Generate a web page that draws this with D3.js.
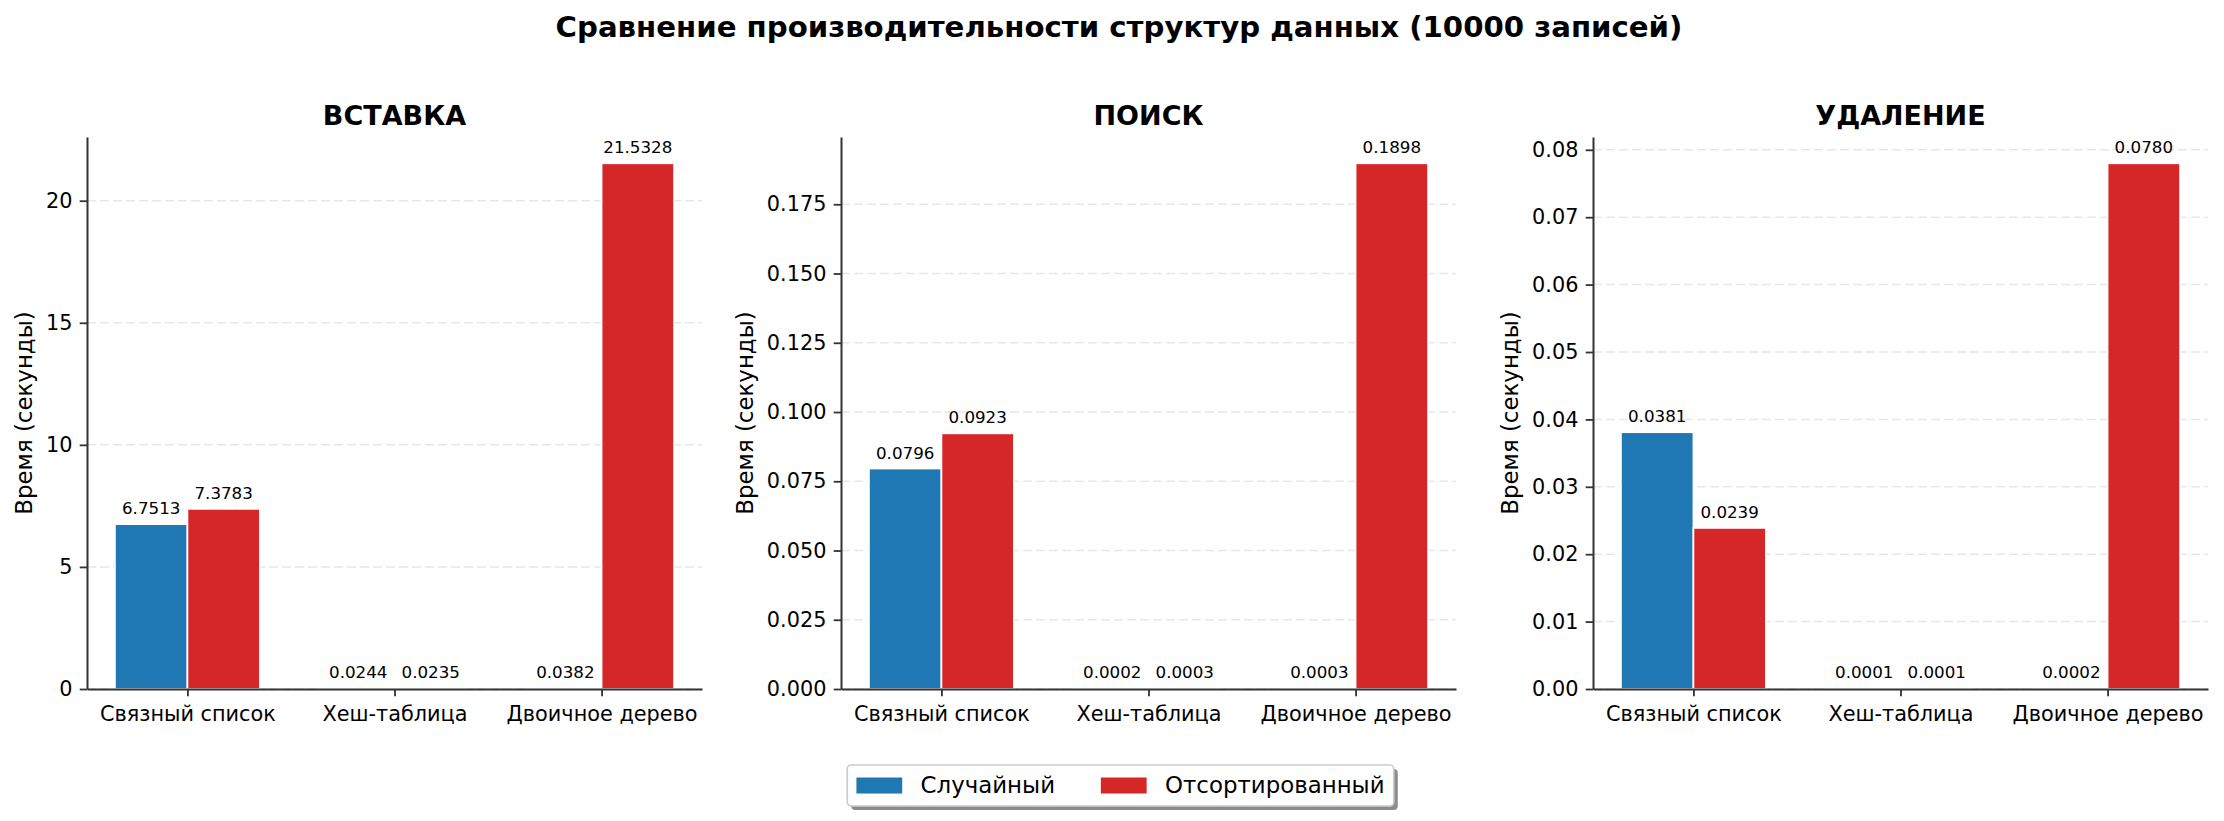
<!DOCTYPE html>
<html>
<head>
<meta charset="utf-8">
<script src="https://cdn.jsdelivr.net/npm/d3@7"></script>
<style>
  body { margin: 0; background: #fff; }
  svg { display: block; font-family: "DejaVu Sans", sans-serif; }
</style>
</head>
<body>
<svg id="svg" width="2224" height="821"></svg>
<script>
var categories = ["Связный список", "Хеш-таблица", "Двоичное дерево"];
var seriesNames = ["Случайный", "Отсортированный"];

var insertRandom = [6.7513, 0.0244, 0.0382];
var insertSorted = [7.3783, 0.0235, 21.5328];
var searchRandom = [0.0796, 0.0002, 0.0003];
var searchSorted = [0.0923, 0.0003, 0.1898];
var deleteRandom = [0.0381, 0.0001, 0.0002];
var deleteSorted = [0.0239, 0.0001, 0.0780];

var insertTicks = [0, 5, 10, 15, 20];
var searchTicks = [0, 0.025, 0.05, 0.075, 0.1, 0.125, 0.15, 0.175];
var deleteTicks = [0, 0.01, 0.02, 0.03, 0.04, 0.05, 0.06, 0.07, 0.08];

var panelTitles = ["ВСТАВКА", "ПОИСК", "УДАЛЕНИЕ"];

var colors = ["#1f77b4", "#d62728"];
var barWidth = 0.35;

var panels = [
  { title: panelTitles[0], series: [insertRandom, insertSorted], ticks: insertTicks, fmt: d3.format("d"), left: 87 },
  { title: panelTitles[1], series: [searchRandom, searchSorted], ticks: searchTicks, fmt: d3.format(".3f"), left: 841 },
  { title: panelTitles[2], series: [deleteRandom, deleteSorted], ticks: deleteTicks, fmt: d3.format(".2f"), left: 1593 }
];

var svg = d3.select("#svg");
var axTop = 137, axBottom = 689, axWidth = 615;
var tickLen = 7.3;

svg.append("text")
  .attr("x", 1119).attr("y", 37)
  .attr("text-anchor", "middle")
  .attr("font-size", 29.2).attr("font-weight", "bold")
  .text("Сравнение производительности структур данных (10000 записей)");

panels.forEach(function(p) {
  var g = svg.append("g");
  var maxV = d3.max(p.series, function(s) { return d3.max(s); });
  var y = d3.scaleLinear().domain([0, maxV * 1.05]).range([axBottom, axTop]);
  var x = d3.scaleLinear()
    .domain([-barWidth - 0.05 * (categories.length - 1 + 2 * barWidth), categories.length - 1 + barWidth + 0.05 * (categories.length - 1 + 2 * barWidth)])
    .range([p.left, p.left + axWidth]);

  // grid
  g.append("g").selectAll("line").data(p.ticks).join("line")
    .attr("x1", p.left).attr("x2", p.left + axWidth)
    .attr("y1", function(d) { return y(d); }).attr("y2", function(d) { return y(d); })
    .attr("stroke", "#b0b0b0").attr("stroke-opacity", 0.3)
    .attr("stroke-width", 1.5).attr("stroke-dasharray", "9,4");

  p.series.forEach(function(vals, si) {
    var off = si === 0 ? -barWidth : 0;
    g.append("g").selectAll("rect").data(vals).join("rect")
      .attr("x", function(d, i) { return x(i + off); })
      .attr("width", x(barWidth) - x(0))
      .attr("y", function(d) { return y(d); })
      .attr("height", function(d) { return y(0) - y(d); })
      .attr("fill", colors[si])
      .attr("stroke", "white").attr("stroke-width", 1.7);

    g.append("g").selectAll("text").data(vals).join("text")
      .attr("x", function(d, i) { return x(i + off + barWidth / 2); })
      .attr("y", function(d) { return y(d) - 10; })
      .attr("text-anchor", "middle")
      .attr("font-size", 16.7)
      .text(function(d) { return d.toFixed(4); });
  });

  var yAxis = g.append("g")
    .attr("transform", "translate(" + p.left + ",0)")
    .call(d3.axisLeft(y).tickValues(p.ticks).tickFormat(p.fmt).tickSize(tickLen).tickSizeOuter(0).tickPadding(7.3));
  var xAxis = g.append("g")
    .attr("transform", "translate(0," + axBottom + ")")
    .call(d3.axisBottom(x).tickValues(d3.range(categories.length)).tickFormat(function(i) { return categories[i]; })
      .tickSize(tickLen).tickSizeOuter(0).tickPadding(7.3));

  [yAxis, xAxis].forEach(function(a) {
    a.select(".domain").attr("stroke", "#333").attr("stroke-width", 2);
    a.selectAll(".tick line").attr("stroke", "#333").attr("stroke-width", 1.8);
    a.selectAll(".tick text").attr("font-size", 20.8).attr("fill", "#000")
      .attr("font-family", "DejaVu Sans");
  });
  xAxis.selectAll(".tick text").attr("dy", "0.82em");

  var minX = d3.min(yAxis.selectAll(".tick text").nodes(), function(n) { return n.getBBox().x; }) + p.left;
  var lx = minX - 8.3 - 5.4;
  g.append("text")
    .attr("transform", "translate(" + lx + "," + (axTop + axBottom) / 2 + ") rotate(-90)")
    .attr("text-anchor", "middle")
    .attr("font-size", 22.9)
    .text("Время (секунды)");

  g.append("text")
    .attr("x", p.left + axWidth / 2).attr("y", axTop - 12.5)
    .attr("text-anchor", "middle")
    .attr("font-size", 27).attr("font-weight", "bold")
    .text(p.title);
});

// legend
var fs = 22.9;
var leg = svg.append("g");
var legTop = 765, legH = 41, legCx = 1120.5;
var items = leg.selectAll("g.item").data(seriesNames).join("g").attr("class", "item");
var labels = items.append("text")
  .attr("font-size", fs)
  .text(function(d) { return d; });
var widths = labels.nodes().map(function(n) { return n.getComputedTextLength(); });
var total = 0.4 * fs * 2 + d3.sum(widths) + seriesNames.length * (2 * fs + 0.8 * fs) + (seriesNames.length - 1) * 2 * fs;
var legLeft = legCx - total / 2;
var cursor = legLeft + 0.4 * fs;
var pos = widths.map(function(w) { var c = cursor; cursor += 2.8 * fs + w + 2 * fs; return c; });

leg.insert("rect", ":first-child")
  .attr("x", legLeft).attr("y", legTop).attr("width", total).attr("height", legH)
  .attr("rx", 4).attr("fill", "white").attr("stroke", "#cccccc").attr("stroke-width", 1.7);
leg.insert("rect", ":first-child")
  .attr("x", legLeft + 4).attr("y", legTop + 4).attr("width", total).attr("height", legH)
  .attr("rx", 4).attr("fill", "#8c8c8c");

items.insert("rect", "text")
  .attr("x", function(d, i) { return pos[i]; })
  .attr("y", legTop + 12.5).attr("width", 2 * fs).attr("height", 0.7 * fs)
  .attr("fill", function(d, i) { return colors[i]; });
labels
  .attr("x", function(d, i) { return pos[i] + 2.8 * fs; })
  .attr("y", legTop + legH / 2 + 7.8);
</script>
</body>
</html>
